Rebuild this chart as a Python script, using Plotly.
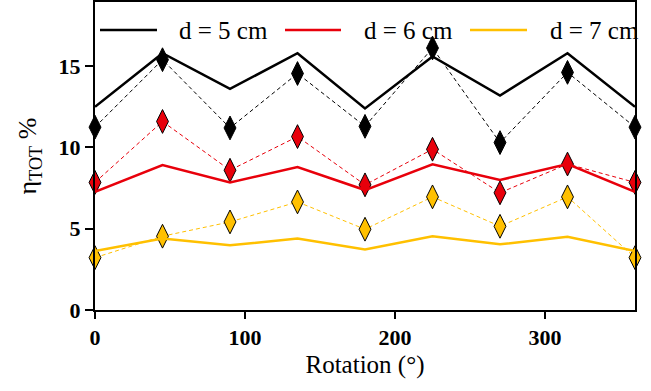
import plotly.graph_objects as go

rotation = [0, 45, 90, 135, 180, 225, 270, 315, 360]

# solid lines (legend series)
d5_line = [12.5, 15.8, 13.6, 15.8, 12.4, 15.6, 13.2, 15.8, 12.5]
d6_line = [7.27, 8.92, 7.85, 8.8, 7.38, 8.96, 8.0, 8.98, 7.27]
d7_line = [3.63, 4.4, 3.98, 4.4, 3.73, 4.54, 4.04, 4.5, 3.63]

# dashed lines with diamond markers
d5_pts = [11.25, 15.4, 11.2, 14.55, 11.3, 16.12, 10.3, 14.62, 11.25]
d6_pts = [7.85, 11.6, 8.6, 10.67, 7.7, 9.89, 7.21, 8.98, 7.85]
d7_pts = [3.22, 4.54, 5.42, 6.65, 4.97, 6.96, 5.15, 6.96, 3.22]

labels = ["d = 5 cm", "d = 6 cm", "d = 7 cm"]
colors = ["#000000", "#e8000b", "#ffc000"]

font = "Times New Roman, Liberation Serif, Times, serif"

fig = go.Figure()
for pts, col in zip([d5_pts, d6_pts, d7_pts], colors):
    fig.add_trace(go.Scatter(
        x=rotation, y=pts, mode="lines+markers", showlegend=False,
        line=dict(color=col, width=1, dash="4px,3px"),
        marker=dict(symbol="diamond-tall", size=17, color=col,
                    line=dict(color="black", width=1)),
        cliponaxis=False,
    ))
for ys, col, lab in zip([d5_line, d6_line, d7_line], colors, labels):
    fig.add_trace(go.Scatter(
        x=rotation, y=ys, mode="lines", name=lab, showlegend=False,
        line=dict(color=col, width=2.5),
    ))

# legend drawn as line samples + text (paper coordinates)
plot_l, plot_r, plot_t, plot_b = 95, 635, 2, 310
pw, ph = plot_r - plot_l, plot_b - plot_t
def px(x):
    return (x - plot_l) / pw
def py(y):
    return (plot_b - y) / ph

legend_line_x = [(100, 157), (285, 341), (470, 527)]
legend_text_x = [177, 362, 548]
legend_y = 30
for (x0, x1), tx, col, lab in zip(legend_line_x, legend_text_x, colors, labels):
    fig.add_shape(type="line", xref="paper", yref="paper",
                  x0=px(x0), x1=px(x1), y0=py(legend_y), y1=py(legend_y),
                  line=dict(color=col, width=2.5))
    fig.add_annotation(xref="paper", yref="paper", x=px(tx), y=py(legend_y + 1),
                       text=lab, showarrow=False, xanchor="left", yanchor="middle",
                       font=dict(family=font, size=25, color="black"))

fig.update_layout(
    width=651, height=391,
    margin=dict(l=plot_l, r=651 - plot_r, t=plot_t, b=391 - plot_b),
    plot_bgcolor="white", paper_bgcolor="white",
    font=dict(family=font, size=22, color="black"),
    showlegend=False,
    xaxis=dict(range=[0, 360], tickvals=[0, 100, 200, 300],
               showline=True, mirror=True, linecolor="black", linewidth=2,
               ticks="outside", ticklen=7, tickwidth=2, tickcolor="black",
               tickfont=dict(size=22, weight="bold", family=font),
               showgrid=False, zeroline=False, automargin=False,
               title=dict(text="Rotation (°)", font=dict(size=25, family=font), standoff=6)),
    yaxis=dict(range=[0, 18.95], tickvals=[0, 5, 10, 15],
               showline=True, mirror=True, linecolor="black", linewidth=2,
               ticks="outside", ticklen=8, tickwidth=2, tickcolor="black",
               tickfont=dict(size=22, weight="bold", family=font),
               showgrid=False, zeroline=False, automargin=False,
               title=dict(text="η<sub>TOT</sub> %", font=dict(size=26, family=font), standoff=14)),
)

fig.write_html("out.html", config={"displayModeBar": False},
               post_script="document.body.style.margin='0';")
